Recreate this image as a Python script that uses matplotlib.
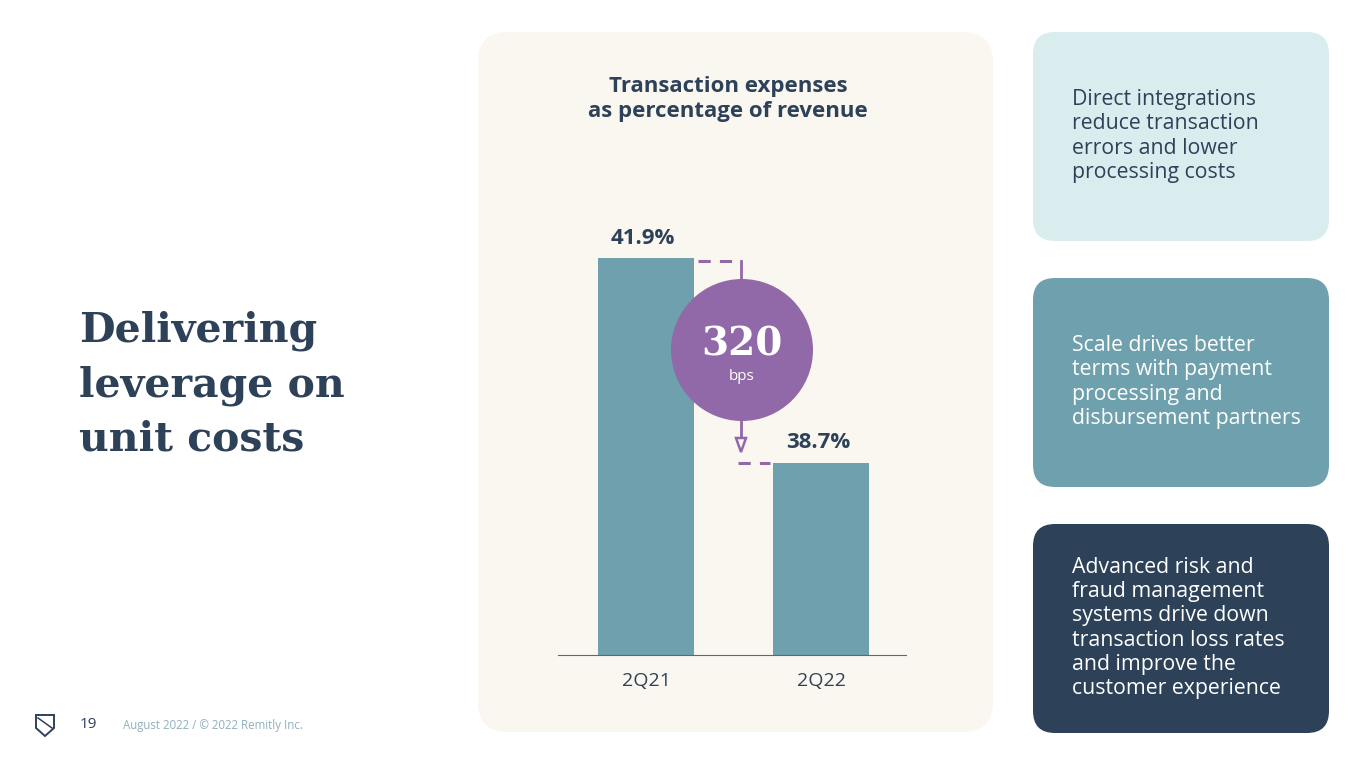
import matplotlib.pyplot as plt
from matplotlib.patches import FancyBboxPatch, Circle, Polygon

# Data
quarters = ["2Q21", "2Q22"]
values = [41.9, 38.7]
labels = ["41.9%", "38.7%"]
change_bps = "320"

NAVY = "#2d4259"
TEAL = "#6fa0ae"
PURPLE = "#9169a8"
SANS = ["Open Sans", "DejaVu Sans"]

fig = plt.figure(figsize=(13.65, 7.68), dpi=100)
bg = fig.add_axes([0, 0, 1, 1])
bg.set_xlim(0, 1365)
bg.set_ylim(768, 0)
bg.axis("off")

def box(x, y, w, h, color, r=22):
    bg.add_patch(FancyBboxPatch((x + r, y + r), w - 2 * r, h - 2 * r,
                                boxstyle=f"round,pad={r}", fc=color, ec="none"))

box(478, 32, 515, 700, "#faf7f1", r=30)
box(1033, 32, 296, 209, "#d9ecee")
box(1033, 278, 296, 209, TEAL)
box(1033, 524, 296, 209, NAVY)

kw = dict(fontsize=15.3, va="center", family=SANS, linespacing=1.2)
bg.text(1072, 136, "Direct integrations\nreduce transaction\nerrors and lower\nprocessing costs",
        color=NAVY, **kw)
bg.text(1072, 382, "Scale drives better\nterms with payment\nprocessing and\ndisbursement partners",
        color="white", **kw)
bg.text(1072, 628, "Advanced risk and\nfraud management\nsystems drive down\ntransaction loss rates\nand improve the\ncustomer experience",
        color="white", **kw)

bg.text(79, 385, "Delivering\nleverage on\nunit costs", fontsize=29.5, fontweight="bold",
        color=NAVY, va="center", family="DejaVu Serif", linespacing=1.45)

bg.text(728, 99, "Transaction expenses\nas percentage of revenue", fontsize=16,
        fontweight="bold", color=NAVY, ha="center", va="center", family=SANS, linespacing=1.25)

# footer
bg.text(80, 724, "19", fontsize=11, color=NAVY, va="center", family=SANS)
bg.text(123, 726, "August 2022 / \u00a9 2022 Remitly Inc.", fontsize=8.3, color="#8fb0bd",
        va="center", family=SANS)
bg.add_patch(Polygon([(36, 715), (54, 715), (54, 728), (45, 736), (36, 728)],
                     closed=True, fc="none", ec=NAVY, lw=1.4))
bg.plot([38, 52], [718, 728], color=NAVY, lw=1.1)

# chart axes in pixel placement: x 558-906, y 200-655
ax = fig.add_axes([558 / 1365, 1 - 655 / 768, 348 / 1365, 455 / 768])
ax.patch.set_alpha(0)
ax.set_xlim(0, 348)
ax.set_ylim(35.7, 42.81)
centers = [88, 263]
ax.bar(centers, values, width=96, color=TEAL, zorder=2)
for c, v, lab in zip(centers, values, labels):
    ax.text(c - 3, v + 0.15, lab, ha="center", va="bottom", fontsize=16,
            fontweight="bold", color=NAVY, family=SANS)
for s in ["top", "right", "left"]:
    ax.spines[s].set_visible(False)
ax.spines["bottom"].set_color("#666666")
ax.set_yticks([])
ax.set_xticks(centers)
ax.set_xticklabels(quarters, fontsize=14, color=NAVY, family=SANS)
ax.tick_params(axis="x", length=0, pad=12)

# connector and circle (pixel coords)
bg.plot([698, 741], [261, 261], color=PURPLE, lw=2.2, ls=(0, (4, 3)), zorder=3)
bg.plot([741, 741], [261, 300], color=PURPLE, lw=2, zorder=3)
bg.plot([741, 741], [400, 440], color=PURPLE, lw=2, zorder=3)
bg.add_patch(Polygon([(736, 438), (746, 438), (741, 452)], closed=True, fc="#faf7f1",
                     ec=PURPLE, lw=1.8, zorder=5))
bg.plot([738, 770], [463, 463], color=PURPLE, lw=2.2, ls=(0, (4, 3)), zorder=3)
bg.set_zorder(0)
circ_ax = fig.add_axes([0, 0, 1, 1])
circ_ax.set_xlim(0, 1365)
circ_ax.set_ylim(768, 0)
circ_ax.axis("off")
circ_ax.add_patch(Circle((742, 350), 71, fc=PURPLE, ec="none"))
circ_ax.text(742, 345, change_bps, fontsize=28, fontweight="bold", color="white",
             ha="center", va="center", family="DejaVu Serif")
circ_ax.text(742, 376, "bps", fontsize=11, color="white", ha="center", va="center", family=SANS)

fig.savefig("out.png", dpi=100)
